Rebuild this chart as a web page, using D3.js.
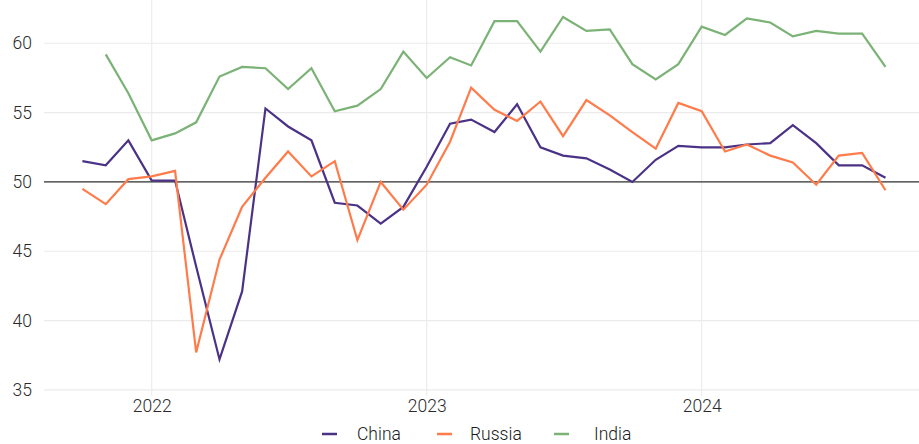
<!DOCTYPE html>
<html><head><meta charset="utf-8">
<script src="https://cdn.jsdelivr.net/npm/d3@7"></script>
<style>
html,body{margin:0;padding:0;background:#fff;}
text{font-family:Roboto,"Liberation Sans",sans-serif;font-weight:300;}
</style></head>
<body><svg id="chart" width="919" height="444"></svg>
<script>
const months = ["2021-10","2021-11","2021-12","2022-01","2022-02","2022-03","2022-04","2022-05","2022-06","2022-07","2022-08","2022-09","2022-10","2022-11","2022-12","2023-01","2023-02","2023-03","2023-04","2023-05","2023-06","2023-07","2023-08","2023-09","2023-10","2023-11","2023-12","2024-01","2024-02","2024-03","2024-04","2024-05","2024-06","2024-07","2024-08","2024-09"];
const china = [51.5,51.2,53.0,50.1,50.1,43.9,37.2,42.1,55.3,54.0,53.0,48.5,48.3,47.0,48.2,51.1,54.2,54.5,53.6,55.6,52.5,51.9,51.7,50.9,50.0,51.6,52.6,52.5,52.5,52.7,52.8,54.1,52.8,51.2,51.2,50.3];
const russia = [49.5,48.4,50.2,50.4,50.8,37.7,44.4,48.2,50.3,52.2,50.4,51.5,45.8,50.0,48.0,49.8,52.9,56.8,55.2,54.4,55.8,53.3,55.9,54.8,53.6,52.4,55.7,55.1,52.2,52.7,51.9,51.4,49.8,51.9,52.1,49.4];
const india = [null,59.2,56.4,53.0,53.5,54.3,57.6,58.3,58.2,56.7,58.2,55.1,55.5,56.7,59.4,57.5,59.0,58.4,61.6,61.6,59.4,61.9,60.9,61.0,58.5,57.4,58.5,61.2,60.6,61.8,61.5,60.5,60.9,60.7,60.7,58.3];
const seriesNames = ["China","Russia","India"];
const yTicks = [35,40,45,50,55,60];
const xTickYears = ["2022","2023","2024"];

const colors = {China:"#4b3287", Russia:"#ff7b4a", India:"#7bb276"};
const svg = d3.select("#chart");
const parse = d3.utcParse("%Y-%m");
const dates = months.map(parse);

const pLeft = 44, pRight = 919, pTop = 0, pBottom = 396;
const x = d3.scaleUtc().domain([parse("2021-10"), parse("2024-09")]).range([82.4, 885.5]);
const y = d3.scaleLinear().domain([35, 60]).range([389.9, 43.3]);
const fs = 17.5;

// grid
svg.append("g").selectAll("line").data(yTicks).join("line")
  .attr("x1", pLeft).attr("x2", pRight)
  .attr("y1", d => y(d)).attr("y2", d => y(d))
  .attr("stroke", "#ebebeb").attr("stroke-width", 1.1);
const yearDates = xTickYears.map(s => d3.utcParse("%Y")(s));
svg.append("g").selectAll("line").data(yearDates).join("line")
  .attr("x1", d => x(d)).attr("x2", d => x(d))
  .attr("y1", pTop).attr("y2", pBottom)
  .attr("stroke", "#ebebeb").attr("stroke-width", 1.1);

// reference line at 50
svg.append("line").attr("x1", pLeft).attr("x2", pRight)
  .attr("y1", y(50)).attr("y2", y(50))
  .attr("stroke", "#333").attr("stroke-width", 1.2);

// axes labels
const yAxis = d3.axisLeft(y).tickValues(yTicks).tickSize(0).tickPadding(12);
const gy = svg.append("g").attr("transform", `translate(${pLeft},0)`).call(yAxis);
gy.select(".domain").remove();
gy.selectAll("text").attr("font-size", fs).attr("fill", "#2a2a2a").style("font-family","Roboto,sans-serif").style("font-weight",300);

const xAxis = d3.axisBottom(x).tickValues(yearDates).tickFormat(d3.utcFormat("%Y")).tickSize(0).tickPadding(4);
const gx = svg.append("g").attr("transform", `translate(0,${pBottom})`).call(xAxis);
gx.select(".domain").remove();
gx.selectAll("text").attr("font-size", fs).attr("fill", "#2a2a2a").style("font-family","Roboto,sans-serif").style("font-weight",300);

// lines
const data = {China: china, Russia: russia, India: india};
const line = d3.line().defined(d => d.v != null).x(d => x(d.d)).y(d => y(d.v));
seriesNames.forEach(name => {
  const pts = dates.map((d,i) => ({d, v: data[name][i]}));
  svg.append("path").datum(pts).attr("d", line)
    .attr("fill","none").attr("stroke", colors[name]).attr("stroke-width", 2.2)
    .attr("stroke-linejoin","miter");
});

// legend
const legendX = [322, 437, 554];
const lg = svg.append("g");
seriesNames.forEach((name, i) => {
  const g = lg.append("g").attr("transform", `translate(${legendX[i]},434)`);
  g.append("line").attr("x1", 0).attr("x2", 15).attr("y1", 0).attr("y2", 0)
    .attr("stroke", colors[name]).attr("stroke-width", 2.5);
  g.append("text").attr("x", [35,33,40][i]).attr("y", 0).attr("dy", "0.35em")
    .attr("font-size", fs).attr("fill", "#1a1a1a").text(name);
});
</script></body></html>
